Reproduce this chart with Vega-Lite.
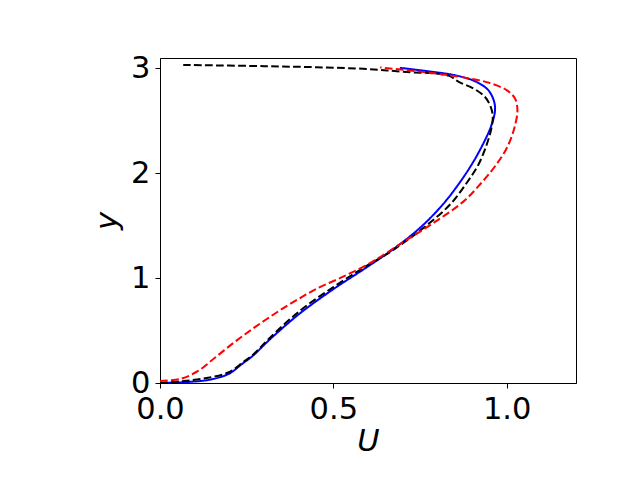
{
  "$schema": "https://vega.github.io/schema/vega-lite/v6.json",
  "width": 416,
  "height": 325,
  "autosize": {"type": "none"},
  "padding": {"left": 160, "top": 58, "right": 64, "bottom": 97},
  "background": "white",
  "config": {
    "view": {"stroke": "black", "strokeWidth": 1},
    "axis": {
      "grid": false,
      "domainColor": "black",
      "tickColor": "black",
      "tickSize": 5,
      "tickWidth": 1,
      "labelFlush": false,
      "labelOverlap": false,
      "labelFont": "DejaVu Sans",
      "labelFontSize": 30.5,
      "labelColor": "black",
      "titleFont": "DejaVu Sans",
      "titleFontSize": 30.5,
      "titleFontStyle": "italic",
      "titleFontWeight": "normal",
      "titleColor": "black"
    }
  },
  "data": {
    "values": [
      {"s": "a", "U": 0.0, "y": 0.0},
      {"s": "a", "U": 0.082, "y": 0.01},
      {"s": "a", "U": 0.149, "y": 0.035},
      {"s": "a", "U": 0.2, "y": 0.09},
      {"s": "a", "U": 0.236, "y": 0.18},
      {"s": "a", "U": 0.268, "y": 0.26},
      {"s": "a", "U": 0.315, "y": 0.41},
      {"s": "a", "U": 0.404, "y": 0.665},
      {"s": "a", "U": 0.5, "y": 0.895},
      {"s": "a", "U": 0.59, "y": 1.09},
      {"s": "a", "U": 0.67, "y": 1.27},
      {"s": "a", "U": 0.75, "y": 1.48},
      {"s": "a", "U": 0.815, "y": 1.7},
      {"s": "a", "U": 0.862, "y": 1.9},
      {"s": "a", "U": 0.902, "y": 2.1},
      {"s": "a", "U": 0.935, "y": 2.3},
      {"s": "a", "U": 0.955, "y": 2.45},
      {"s": "a", "U": 0.966, "y": 2.587},
      {"s": "a", "U": 0.964, "y": 2.682},
      {"s": "a", "U": 0.947, "y": 2.793},
      {"s": "a", "U": 0.913, "y": 2.872},
      {"s": "a", "U": 0.856, "y": 2.932},
      {"s": "a", "U": 0.77, "y": 2.975},
      {"s": "a", "U": 0.692, "y": 3.006},

      {"s": "b", "U": 0.0, "y": 0.0},
      {"s": "b", "U": 0.0625, "y": 0.017},
      {"s": "b", "U": 0.13, "y": 0.045},
      {"s": "b", "U": 0.197, "y": 0.1},
      {"s": "b", "U": 0.24, "y": 0.2},
      {"s": "b", "U": 0.27, "y": 0.275},
      {"s": "b", "U": 0.315, "y": 0.425},
      {"s": "b", "U": 0.404, "y": 0.69},
      {"s": "b", "U": 0.5, "y": 0.915},
      {"s": "b", "U": 0.59, "y": 1.105},
      {"s": "b", "U": 0.673, "y": 1.27},
      {"s": "b", "U": 0.759, "y": 1.477},
      {"s": "b", "U": 0.836, "y": 1.7},
      {"s": "b", "U": 0.885, "y": 1.91},
      {"s": "b", "U": 0.918, "y": 2.08},
      {"s": "b", "U": 0.942, "y": 2.27},
      {"s": "b", "U": 0.956, "y": 2.43},
      {"s": "b", "U": 0.96, "y": 2.539},
      {"s": "b", "U": 0.954, "y": 2.634},
      {"s": "b", "U": 0.937, "y": 2.73},
      {"s": "b", "U": 0.904, "y": 2.81},
      {"s": "b", "U": 0.862, "y": 2.872},
      {"s": "b", "U": 0.832, "y": 2.932},
      {"s": "b", "U": 0.702, "y": 2.968},
      {"s": "b", "U": 0.6, "y": 2.995},
      {"s": "b", "U": 0.45, "y": 3.012},
      {"s": "b", "U": 0.3, "y": 3.022},
      {"s": "b", "U": 0.067, "y": 3.034},

      {"s": "c", "U": 0.0, "y": 0.02},
      {"s": "c", "U": 0.06, "y": 0.04},
      {"s": "c", "U": 0.11, "y": 0.115},
      {"s": "c", "U": 0.16, "y": 0.245},
      {"s": "c", "U": 0.213, "y": 0.385},
      {"s": "c", "U": 0.26, "y": 0.5},
      {"s": "c", "U": 0.308, "y": 0.61},
      {"s": "c", "U": 0.356, "y": 0.715},
      {"s": "c", "U": 0.404, "y": 0.81},
      {"s": "c", "U": 0.452, "y": 0.9},
      {"s": "c", "U": 0.519, "y": 1.0},
      {"s": "c", "U": 0.606, "y": 1.144},
      {"s": "c", "U": 0.702, "y": 1.345},
      {"s": "c", "U": 0.788, "y": 1.525},
      {"s": "c", "U": 0.875, "y": 1.73},
      {"s": "c", "U": 0.93, "y": 1.92},
      {"s": "c", "U": 0.967, "y": 2.07},
      {"s": "c", "U": 1.0, "y": 2.239},
      {"s": "c", "U": 1.022, "y": 2.43},
      {"s": "c", "U": 1.031, "y": 2.603},
      {"s": "c", "U": 1.024, "y": 2.714},
      {"s": "c", "U": 1.0, "y": 2.793},
      {"s": "c", "U": 0.942, "y": 2.87},
      {"s": "c", "U": 0.865, "y": 2.92},
      {"s": "c", "U": 0.75, "y": 2.97},
      {"s": "c", "U": 0.635, "y": 3.01}
    ]
  },
  "mark": {"type": "line", "strokeWidth": 2, "interpolate": "catmull-rom", "clip": true},
  "encoding": {
    "x": {
      "field": "U", "type": "quantitative",
      "scale": {"domain": [0, 1.2], "nice": false, "zero": false},
      "axis": {"values": [0, 0.5, 1.0], "format": ".1f", "title": "U", "labelPadding": 6, "titlePadding": 2}
    },
    "y": {
      "field": "y", "type": "quantitative",
      "scale": {"domain": [0, 3.1], "nice": false, "zero": false},
      "axis": {"values": [0, 1, 2, 3], "format": "d", "title": "y", "labelPadding": 5, "titlePadding": 8}
    },
    "order": {"field": "y", "type": "quantitative"},
    "color": {
      "field": "s", "type": "nominal",
      "scale": {"domain": ["a", "b", "c"], "range": ["#0000ff", "#000000", "#ff0000"]},
      "legend": null
    },
    "strokeDash": {
      "field": "s", "type": "nominal",
      "scale": {"domain": ["a", "b", "c"], "range": [[1, 0], [7.7, 3.3], [7.7, 3.3]]},
      "legend": null
    }
  }
}
